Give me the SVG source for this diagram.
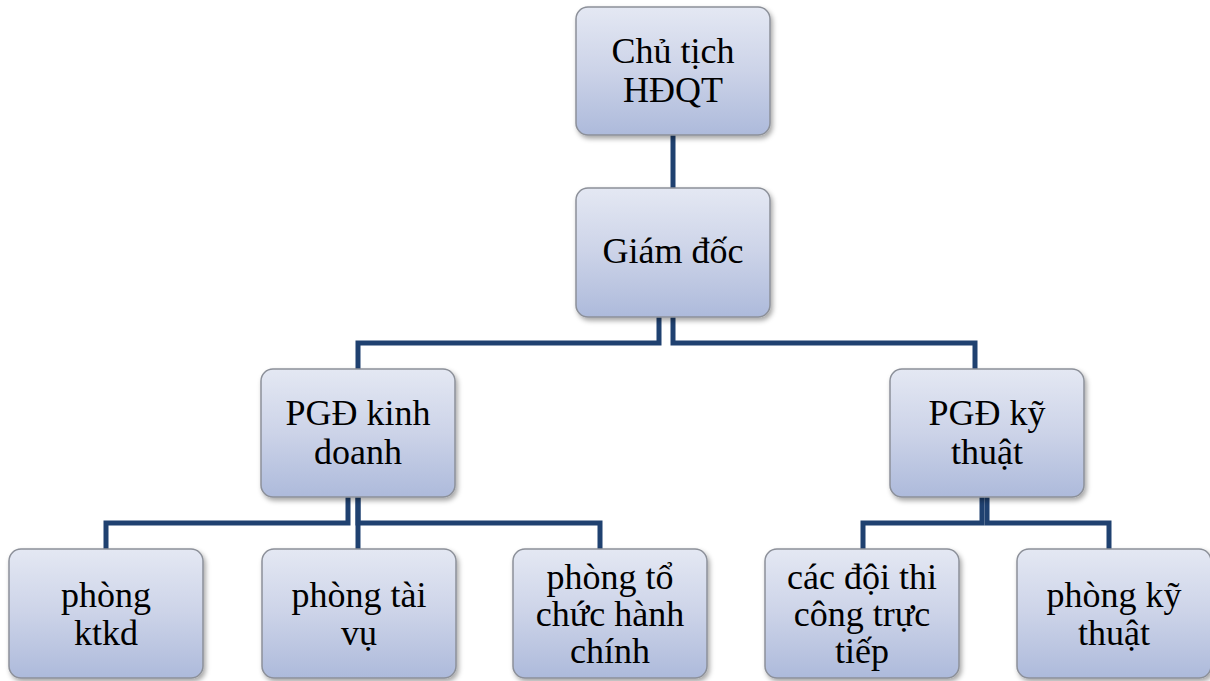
<svg xmlns="http://www.w3.org/2000/svg" width="1210" height="681" viewBox="0 0 1210 681">
  <defs>
    <linearGradient id="boxFill" x1="0" y1="0" x2="0" y2="1">
      <stop offset="0" stop-color="#e4e8f3"/>
      <stop offset="0.5" stop-color="#ccd3e8"/>
      <stop offset="1" stop-color="#adbadb"/>
    </linearGradient>
    <filter id="shadow" x="-10%" y="-10%" width="125%" height="130%">
      <feDropShadow dx="2" dy="3" stdDeviation="2.5" flood-color="#000" flood-opacity="0.35"/>
    </filter>
  </defs>
  <style>
    .box { fill: url(#boxFill); stroke: #8c9099; stroke-width: 1.5; filter: url(#shadow); }
    .label { font-family: "Liberation Serif", "Times New Roman", serif; font-size: 36px; fill: #000; text-anchor: middle; }
    .link { fill: none; stroke: #1f4170; stroke-width: 5; stroke-linejoin: miter; }
  </style>
  <rect width="1210" height="681" fill="#fff"/>

  <g id="connectors">
    <path class="link" d="M673 135 V188"/>
    <path class="link" d="M659 317 V343 H358 V369"/>
    <path class="link" d="M673 317 V343 H975 V369"/>
    <path class="link" d="M348 497 V523 H106 V549"/>
    <path class="link" d="M358 497 V549"/>
    <path class="link" d="M358 497 V523 H600 V549"/>
    <path class="link" d="M982 497 V523 H863 V549"/>
    <path class="link" d="M987 497 V523 H1109 V549"/>
  </g>

  <g id="chu-tich">
    <rect class="box" x="576" y="7" width="194" height="128" rx="12"/>
    <text class="label" x="673" y="63">Chủ tịch</text>
    <text class="label" x="673" y="102">HĐQT</text>
  </g>

  <g id="giam-doc">
    <rect class="box" x="576" y="188" width="194" height="129" rx="12"/>
    <text class="label" x="673" y="263">Giám đốc</text>
  </g>

  <g id="pgd-kinh-doanh">
    <rect class="box" x="261" y="369" width="194" height="128" rx="12"/>
    <text class="label" x="358" y="425">PGĐ kinh</text>
    <text class="label" x="358" y="464">doanh</text>
  </g>

  <g id="pgd-ky-thuat">
    <rect class="box" x="890" y="369" width="194" height="128" rx="12"/>
    <text class="label" x="987" y="425">PGĐ kỹ</text>
    <text class="label" x="987" y="464">thuật</text>
  </g>

  <g id="phong-ktkd">
    <rect class="box" x="9" y="549" width="194" height="129" rx="12"/>
    <text class="label" x="106" y="607">phòng</text>
    <text class="label" x="106" y="645">ktkd</text>
  </g>

  <g id="phong-tai-vu">
    <rect class="box" x="262" y="549" width="194" height="129" rx="12"/>
    <text class="label" x="359" y="607">phòng tài</text>
    <text class="label" x="359" y="645">vụ</text>
  </g>

  <g id="phong-to-chuc">
    <rect class="box" x="513" y="549" width="194" height="129" rx="12"/>
    <text class="label" x="610" y="589">phòng tổ</text>
    <text class="label" x="610" y="626">chức hành</text>
    <text class="label" x="610" y="663">chính</text>
  </g>

  <g id="doi-thi-cong">
    <rect class="box" x="765" y="549" width="194" height="129" rx="12"/>
    <text class="label" x="862" y="589">các đội thi</text>
    <text class="label" x="862" y="626">công trực</text>
    <text class="label" x="862" y="663">tiếp</text>
  </g>

  <g id="phong-ky-thuat">
    <rect class="box" x="1017" y="549" width="194" height="129" rx="12"/>
    <text class="label" x="1114" y="607">phòng kỹ</text>
    <text class="label" x="1114" y="645">thuật</text>
  </g>
</svg>
